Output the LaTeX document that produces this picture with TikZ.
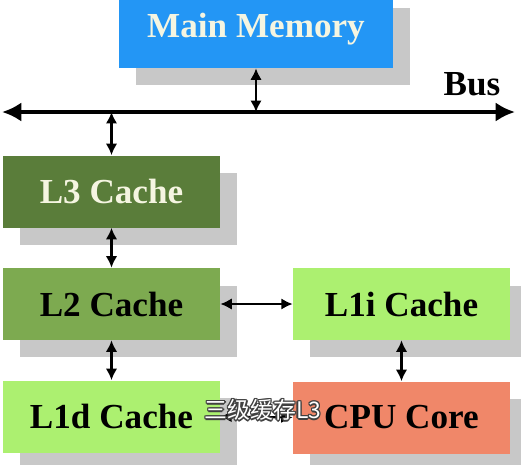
\documentclass[tikz,border=0pt]{standalone}
\usepackage{fontspec}
\setmainfont{Liberation Serif}
\newfontfamily\cjk{Noto Sans CJK SC}
\usepackage{tikz}
\usetikzlibrary{shapes,arrows.meta,shadows}
\definecolor{memblue}{RGB}{35,150,245}
\definecolor{lthree}{RGB}{90,125,58}
\definecolor{ltwo}{RGB}{125,170,80}
\definecolor{lone}{RGB}{172,240,112}
\definecolor{corecol}{RGB}{240,135,105}
\definecolor{shade}{RGB}{200,200,200}
\definecolor{cream}{RGB}{245,245,225}
\tikzstyle{cachebox}=[rectangle,inner sep=0pt,minimum width=4.34cm,minimum height=1.44cm,
  font=\fontsize{20}{24}\selectfont\bfseries,
  drop shadow={shadow xshift=0.34cm,shadow yshift=-0.35cm,fill=shade,opacity=1}]
\tikzstyle{link}=[line width=1.2pt,{Latex[length=6.5pt,width=6.5pt]}-{Latex[length=6.5pt,width=6.5pt]}]

\begin{document}
\begin{tikzpicture}[x=0.02cm,y=-0.02cm]
\useasboundingbox (0,0) rectangle (521,464);
\clip (0,0) rectangle (521,464);
\node[cachebox, fill=memblue, text=cream, minimum width=5.48cm, minimum height=1.56cm] (mem) at (256,29) {Main Memory};
\node[cachebox, fill=lthree, text=cream] (l3) at (111.5,191.5) {L3 Cache};
\node[cachebox, fill=ltwo] (l2) at (111.5,304) {L2 Cache};
\node[cachebox, fill=lone] (l1d) at (111.5,416.5) {L1d Cache};
\node[cachebox, fill=lone] (l1i) at (401.5,304) {L1i Cache};
\node[cachebox, fill=corecol] (cpu) at (401.5,417.5) {CPU Core};
% bus
\coordinate (busL) at (2,112);
\coordinate (busR) at (515,112);
\coordinate (busM) at (mem.south |- busL);
\coordinate (busA) at (l3.north |- busL);
\draw[line width=2.8pt,{Latex[length=11pt,width=11pt]}-{Latex[length=11pt,width=11pt]}] (busL) -- (busR);
\node[font=\fontsize{20}{24}\selectfont\bfseries] (buslabel) at (472,84) {Bus};
\draw[link] (mem.south) -- (busM);
\draw[link] (busA) -- (l3.north);
\draw[link] (l3.south) -- (l2.north);
\draw[link] (l2.south) -- (l1d.north);
\draw[link] (l2.east) -- (l1i.west);
\draw[link] (l1i.south) -- (cpu.north);
\draw[link] (l1d.east) -- (cpu.west);
% caption
\foreach \dx/\dy [count=\i] in {-1/0,1/0,0/-1,0/1,-0.7/-0.7,0.7/0.7,-0.7/0.7,0.7/-0.7}
  \node[font=\cjk\fontsize{13}{15}\selectfont, text=black!75] (caph\i) at ([xshift=\dx*0.8pt,yshift=\dy*0.8pt]263,410) {三级缓存L3};
\node[font=\cjk\fontsize{13}{15}\selectfont, text=white] (caption) at (263,410) {三级缓存L3};
\end{tikzpicture}
\end{document}
